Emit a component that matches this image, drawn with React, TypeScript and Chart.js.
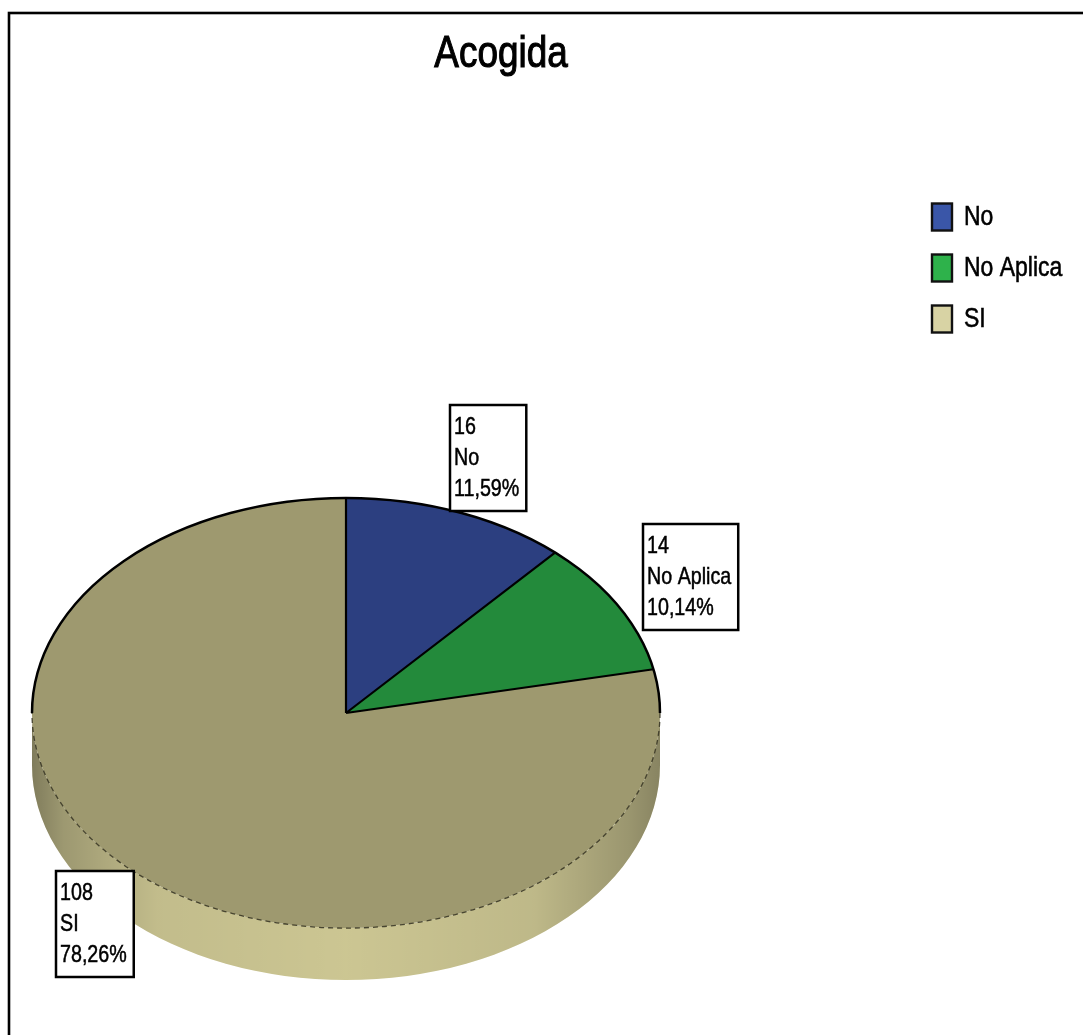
import React, { useEffect, useRef } from "react";
import { Chart, registerables } from "chart.js";

Chart.register(...registerables);

// Chart data
const chartTitle = "Acogida";
const categories = ["No", "No Aplica", "SI"];
const counts = [16, 14, 108];

// Colours
const sliceColors = ["#2C3F80", "#238A3B", "#9E996F"];
const sideColors = ["#3C4F90", "#33A04B", "#CEC894"];
const legendColors = ["#3A56A8", "#2EB24B", "#D8D3A4"];

const W = 1083;
const H = 1035;
const TILT = 0.685; // vertical squash of the pie disc
const DEPTH = 52; // thickness of the disc, screen px
const LABEL_RADIUS = 1.267; // label box centre, relative to the pie radius
const FONT = '"Liberation Sans", Arial, sans-serif';
const NARROW = 0.82; // horizontal squeeze giving a condensed face

const total = counts.reduce((a, b) => a + b, 0);
const pct = (v: number) => ((v / total) * 100).toFixed(2).replace(".", ",") + "%";

function pieGeom(chart: any) {
  const meta = chart.getDatasetMeta(0);
  const first = meta.data[0] as any;
  return { meta, cx: first.x as number, cy: first.y as number, R: first.outerRadius as number };
}

function tilt(ctx: CanvasRenderingContext2D, cx: number, cy: number) {
  ctx.translate(cx, cy);
  ctx.scale(1, TILT);
  ctx.translate(-cx, -cy);
}

function narrowText(ctx: CanvasRenderingContext2D, text: string, x: number, y: number, weight = 0.5) {
  ctx.save();
  ctx.translate(x, y);
  ctx.scale(NARROW, 1);
  ctx.fillText(text, 0, 0);
  if (weight > 0) {
    ctx.lineWidth = weight;
    ctx.strokeStyle = ctx.fillStyle;
    ctx.strokeText(text, 0, 0);
  }
  ctx.restore();
}

const narrowWidth = (ctx: CanvasRenderingContext2D, text: string) => ctx.measureText(text).width * NARROW;

const tiltedPie = {
  id: "tiltedPie",
  beforeDatasetsDraw(chart: any) {
    const ctx: CanvasRenderingContext2D = chart.ctx;
    const { meta, cx, cy, R } = pieGeom(chart);
    ctx.save();
    tilt(ctx, cx, cy);
    const D = DEPTH / TILT;
    // side wall of the disc, only the front half is visible
    meta.data.forEach((arc: any, i: number) => {
      const lo = Math.max(arc.startAngle, 0);
      const hi = Math.min(arc.endAngle, Math.PI);
      if (hi <= lo) return;
      const band = () => {
        ctx.beginPath();
        ctx.arc(cx, cy, R, lo, hi);
        ctx.arc(cx, cy + D, R, hi, lo, true);
        ctx.closePath();
      };
      band();
      ctx.fillStyle = sideColors[i];
      ctx.fill();
      const g = ctx.createLinearGradient(cx - R, 0, cx + R, 0);
      g.addColorStop(0, "rgba(0,0,0,0.38)");
      g.addColorStop(0.05, "rgba(0,0,0,0.24)");
      g.addColorStop(0.2, "rgba(0,0,0,0.06)");
      g.addColorStop(0.5, "rgba(0,0,0,0.01)");
      g.addColorStop(0.8, "rgba(0,0,0,0.08)");
      g.addColorStop(0.95, "rgba(0,0,0,0.25)");
      g.addColorStop(1, "rgba(0,0,0,0.34)");
      band();
      ctx.fillStyle = g;
      ctx.fill();
    });
  },
  afterDatasetsDraw(chart: any) {
    const ctx: CanvasRenderingContext2D = chart.ctx;
    ctx.restore();
    const { meta, cx, cy, R } = pieGeom(chart);
    const stroke = (build: () => void, width: number, color: string, dash: number[]) => {
      ctx.save();
      tilt(ctx, cx, cy);
      ctx.beginPath();
      build();
      ctx.restore();
      ctx.save();
      ctx.lineWidth = width;
      ctx.strokeStyle = color;
      ctx.setLineDash(dash);
      ctx.lineJoin = "round";
      ctx.stroke();
      ctx.restore();
    };
    // front rim of the top face
    stroke(() => ctx.arc(cx, cy, R, 0, Math.PI), 1.3, "rgba(50,48,30,0.85)", [5, 4]);
    // back rim
    stroke(() => ctx.arc(cx, cy, R, Math.PI, Math.PI * 2), 2.5, "#000", []);
    // slice edges
    stroke(() => {
      meta.data.forEach((arc: any) => {
        ctx.moveTo(cx, cy);
        ctx.lineTo(cx + R * Math.cos(arc.startAngle), cy + R * Math.sin(arc.startAngle));
      });
    }, 2.2, "#000", []);
  },
  afterDraw(chart: any) {
    const ctx: CanvasRenderingContext2D = chart.ctx;
    const { meta, cx, cy, R } = pieGeom(chart);
    ctx.save();

    // frame
    ctx.lineWidth = 2.6;
    ctx.strokeStyle = "#000";
    ctx.strokeRect(9, 13, W + 50, H + 50);

    // title
    ctx.fillStyle = "#000";
    ctx.font = `45px ${FONT}`;
    ctx.textAlign = "left";
    ctx.textBaseline = "alphabetic";
    narrowText(ctx, chartTitle, 501 - narrowWidth(ctx, chartTitle) / 2, 67, 1.1);

    // legend
    ctx.textBaseline = "middle";
    ctx.font = `28px ${FONT}`;
    categories.forEach((c, i) => {
      const y = 217 + i * 51;
      ctx.fillStyle = legendColors[i];
      ctx.fillRect(932, y - 13.5, 20, 27);
      ctx.lineWidth = 2.4;
      ctx.strokeStyle = "#111";
      ctx.strokeRect(932, y - 13.5, 20, 27);
      ctx.fillStyle = "#000";
      narrowText(ctx, c, 964, y, 0.6);
    });

    // value labels
    ctx.font = `24px ${FONT}`;
    meta.data.forEach((arc: any, i: number) => {
      const mid = (arc.startAngle + arc.endAngle) / 2;
      const lx = cx + R * LABEL_RADIUS * Math.cos(mid);
      const ly = cy + R * LABEL_RADIUS * Math.sin(mid) * TILT;
      const lines = [String(counts[i]), categories[i], pct(counts[i])];
      const tw = Math.max(...lines.map((t) => narrowWidth(ctx, t)));
      const bw = tw + 11;
      const bh = 106;
      const bx = Math.round(lx - bw / 2);
      const by = Math.round(ly - bh / 2);
      ctx.fillStyle = "#fff";
      ctx.fillRect(bx, by, bw, bh);
      ctx.lineWidth = 2.5;
      ctx.strokeStyle = "#000";
      ctx.strokeRect(bx, by, bw, bh);
      ctx.fillStyle = "#000";
      lines.forEach((t, j) => narrowText(ctx, t, bx + 4, by + bh / 2 + (j - 1) * 31, 0.5));
    });
    ctx.restore();
  },
};

export default function App() {
  const ref = useRef<HTMLCanvasElement | null>(null);
  useEffect(() => {
    if (!ref.current) return;
    const chart = new Chart(ref.current, {
      type: "pie",
      data: {
        labels: categories,
        datasets: [{ data: counts, backgroundColor: sliceColors, borderWidth: 0 }],
      },
      options: {
        responsive: false,
        animation: false,
        devicePixelRatio: 1,
        events: [],
        layout: { padding: { left: 32, right: 423, top: 399, bottom: 8 } },
        plugins: {
          legend: { display: false },
          title: { display: false },
          tooltip: { enabled: false },
        },
      },
      plugins: [tiltedPie],
    });
    return () => chart.destroy();
  }, []);
  return (
    <div style={{ position: "fixed", left: 0, top: 0, width: W, height: H, background: "#fff" }}>
      <canvas ref={ref} width={W} height={H} style={{ display: "block" }} />
    </div>
  );
}
